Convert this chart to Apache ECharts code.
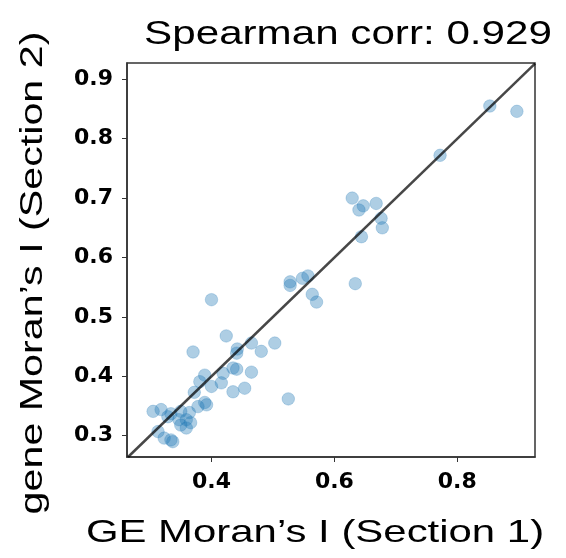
<!DOCTYPE html>
<html>
<head>
<meta charset="utf-8">
<script src="https://cdn.jsdelivr.net/npm/echarts@6/dist/echarts.min.js"></script>
<style>
html,body{margin:0;padding:0;background:#fff;}
#chart{width:566px;height:558px;}
</style>
</head>
<body>
<div id="chart"></div>
<script>
// Moran's I of each gene: Section 1 (x) vs Section 2 (y)
const section1 = [0.853,0.897,0.772,0.629,0.647,0.640,0.668,0.676,0.678,0.644,0.634,0.528,0.528,0.548,0.557,0.564,0.571,0.400,
  0.424,0.370,0.442,0.441,0.465,0.481,0.503,0.435,0.441,0.465,0.419,0.389,0.381,0.416,0.400,0.372,0.435,0.454,0.525,0.389,0.392,
  0.305,0.318,0.329,0.334,0.350,0.364,0.378,0.359,0.350,0.359,0.366,0.313,0.323,0.334,0.337,0.347];
const section2 = [0.855,0.846,0.772,0.700,0.687,0.680,0.691,0.666,0.650,0.635,0.556,0.559,0.553,0.565,0.569,0.538,0.525,0.529,
  0.468,0.441,0.446,0.439,0.456,0.442,0.456,0.414,0.412,0.407,0.405,0.402,0.391,0.389,0.383,0.373,0.374,0.380,0.362,0.356,0.352,
  0.341,0.344,0.332,0.337,0.341,0.339,0.349,0.327,0.318,0.313,0.322,0.307,0.296,0.293,0.290,0.327];
const xTicks = [0.4, 0.6, 0.8];
const yTicks = [0.3, 0.4, 0.5, 0.6, 0.7, 0.8, 0.9];
const xRange = [0.2625, 0.9265];
const yRange = [0.2642, 0.9274];
const diagonal = [[0.2642, 0.2642], [0.9265, 0.9265]];
const titleText = 'Spearman corr: 0.929';
const xName = 'GE Moran\u2019s I (Section 1)';
const yName = 'gene Moran\u2019s I (Section 2)';

const points = section1.map((v, i) => [v, section2[i]]);
const chart = echarts.init(document.getElementById('chart'), null, {renderer: 'canvas'});
const tickLabel = {fontFamily: 'DejaVu Sans', fontWeight: 'bold', fontSize: 22, color: '#000', margin: 14,
  formatter: v => Number(v).toFixed(1)};
const axisBase = {
  axisLine: {show: true, onZero: false, lineStyle: {color: '#333', width: 1.5}},
  axisTick: {show: true, inside: false, length: 5, lineStyle: {color: '#333', width: 1}},
  splitLine: {show: false}
};
chart.setOption({
  animation: false,
  backgroundColor: '#fff',
  grid: {left: 127, right: 31, top: 63, bottom: 101, show: true, borderColor: '#333', borderWidth: 1.5, backgroundColor: 'transparent'},
  xAxis: Object.assign({type: 'value', min: xRange[0], max: xRange[1],
    axisLabel: Object.assign({customValues: xTicks}, tickLabel),
  }, axisBase, {axisTick: Object.assign({customValues: xTicks}, axisBase.axisTick)}),
  yAxis: Object.assign({type: 'value', min: yRange[0], max: yRange[1],
    axisLabel: Object.assign({customValues: yTicks}, tickLabel),
  }, axisBase, {axisTick: Object.assign({customValues: yTicks}, axisBase.axisTick)}),
  graphic: [
    {type: 'text', x: 348, y: 35, scaleX: 1.24,
      style: {text: titleText, font: '34px "Liberation Sans", Arial, sans-serif', fill: '#000',
        textAlign: 'center', textVerticalAlign: 'middle', align: 'center', verticalAlign: 'middle'}},
    {type: 'text', x: 315, y: 533, scaleX: 1.31,
      style: {text: xName, font: '32px "Liberation Sans", Arial, sans-serif', fill: '#000',
        textAlign: 'center', textVerticalAlign: 'middle', align: 'center', verticalAlign: 'middle'}},
    {type: 'text', x: 33, y: 273, rotation: Math.PI / 2, scaleX: 1.33,
      style: {text: yName, font: '31px "Liberation Sans", Arial, sans-serif', fill: '#000',
        textAlign: 'center', textVerticalAlign: 'middle', align: 'center', verticalAlign: 'middle'}}
  ],
  series: [
    {type: 'scatter', data: points, symbol: 'circle', symbolSize: 12.5,
      itemStyle: {color: 'rgba(31,119,180,0.45)', borderColor: 'rgba(31,119,180,0.3)', borderWidth: 1},
      z: 2},
    {type: 'line', data: diagonal, showSymbol: false, symbol: 'none',
      lineStyle: {color: 'rgba(0,0,0,0.72)', width: 2.5}, z: 3, silent: true}
  ]
});
</script>
</body>
</html>
